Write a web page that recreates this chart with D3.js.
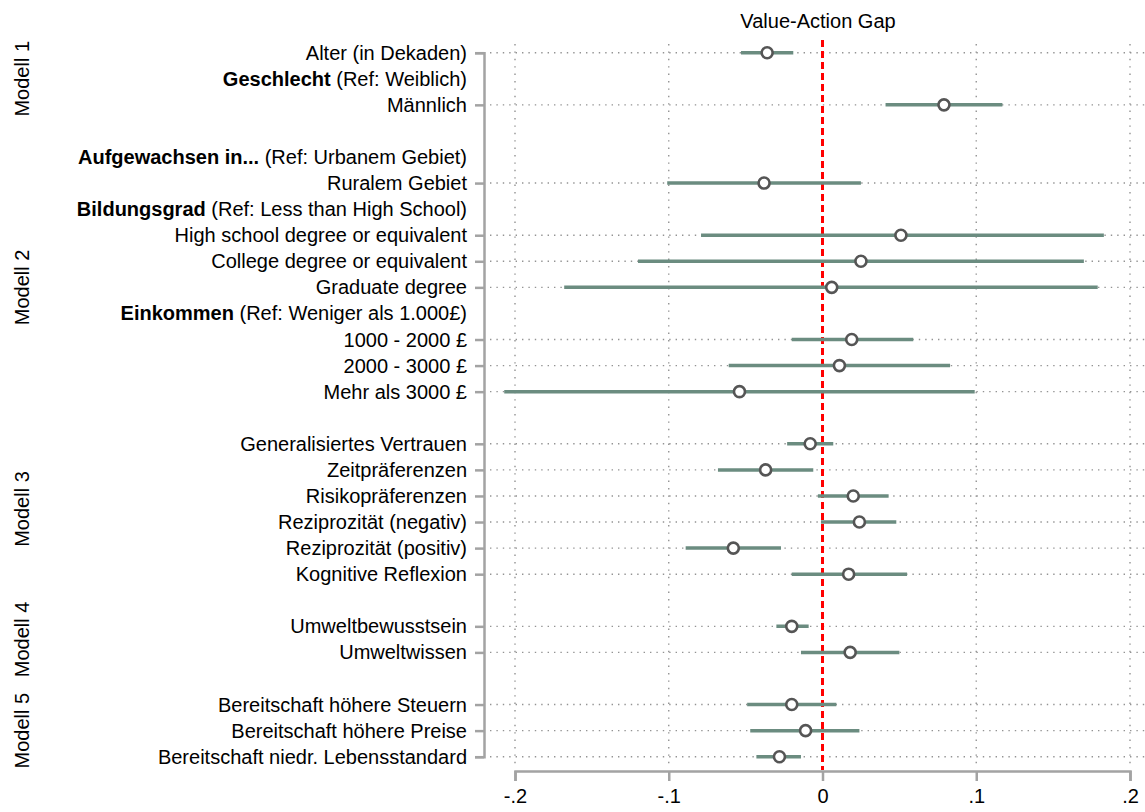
<!DOCTYPE html>
<html>
<head>
<meta charset="utf-8">
<script src="https://cdn.jsdelivr.net/npm/d3@7"></script>
<style>
  body { margin: 0; background: #fff; }
  svg { display: block; }
  text { font-family: "Liberation Sans", Arial, sans-serif; fill: #000; }
</style>
</head>
<body>
<svg id="chart" width="1145" height="812"></svg>
<script>
// Row labels, top to bottom ("" = spacer row)
const rowLabels = [
  "Alter (in Dekaden)",
  "Geschlecht (Ref: Weiblich)",
  "Männlich",
  "",
  "Aufgewachsen in... (Ref: Urbanem Gebiet)",
  "Ruralem Gebiet",
  "Bildungsgrad (Ref: Less than High School)",
  "High school degree or equivalent",
  "College degree or equivalent",
  "Graduate degree",
  "Einkommen (Ref: Weniger als 1.000£)",
  "1000 - 2000 £",
  "2000 - 3000 £",
  "Mehr als 3000 £",
  "",
  "Generalisiertes Vertrauen",
  "Zeitpräferenzen",
  "Risikopräferenzen",
  "Reziprozität (negativ)",
  "Reziprozität (positiv)",
  "Kognitive Reflexion",
  "",
  "Umweltbewusstsein",
  "Umweltwissen",
  "",
  "Bereitschaft höhere Steuern",
  "Bereitschaft höhere Preise",
  "Bereitschaft niedr. Lebensstandard"
];

// Bold lead-in words of the reference-category header rows
const headerBold = ["Geschlecht", "Aufgewachsen in...", "Bildungsgrad", "Einkommen"];

// Point estimates and 95% confidence bounds (null = no estimate on that row)
const estimate = [-0.036, null, 0.079, null, null, -0.038, null, 0.051, 0.025, 0.006,
  null, 0.019, 0.011, -0.054, null, -0.008, -0.037, 0.020, 0.024, -0.058, 0.017,
  null, -0.020, 0.018, null, -0.020, -0.011, -0.028];
const ciLow = [-0.053, null, 0.041, null, null, -0.101, null, -0.079, -0.120, -0.168,
  null, -0.020, -0.061, -0.207, null, -0.023, -0.068, -0.003, -0.001, -0.089, -0.020,
  null, -0.030, -0.014, null, -0.049, -0.047, -0.043];
const ciHigh = [-0.019, null, 0.117, null, null, 0.025, null, 0.183, 0.170, 0.179,
  null, 0.059, 0.083, 0.099, null, 0.007, -0.006, 0.043, 0.048, -0.027, 0.055,
  null, -0.009, 0.050, null, 0.009, 0.024, -0.014];

// Model groups: name, first and last coefficient row
const modelNames = ["Modell 1", "Modell 2", "Modell 3", "Modell 4", "Modell 5"];
const modelFirstRow = [0, 5, 15, 22, 25];
const modelLastRow = [2, 13, 20, 23, 27];

// X axis ticks
const xTicks = [-0.2, -0.1, 0, 0.1, 0.2];
const xTickLabels = ["-.2", "-.1", "0", ".1", ".2"];

const title = "Value-Action Gap";

const svg = d3.select("#chart");
const axisColor = "#a3a3a3";
const gridColor = "#939393";
const ciColor = "#6b8c80";
const pointColor = "#555555";

const x = d3.scaleLinear().domain([-0.2, 0.2]).range([515, 1130]);
const y = d3.scalePoint().domain(d3.range(rowLabels.length)).range([52.7, 756.7]);

const coefRows = d3.range(rowLabels.length).filter(i => estimate[i] !== null);

// Title
svg.append("text")
  .attr("x", 818).attr("y", 28)
  .attr("text-anchor", "middle")
  .style("font-size", "20px")
  .text(title);

// Vertical dotted grid
svg.append("g").selectAll("line")
  .data(xTicks.filter(v => v !== 0))
  .join("line")
  .attr("x1", d => x(d)).attr("x2", d => x(d))
  .attr("y1", 44).attr("y2", 766)
  .attr("stroke", gridColor)
  .attr("stroke-width", 1.4)
  .attr("stroke-dasharray", "1.4,6");

// Horizontal dotted grid on every coefficient row
svg.append("g").selectAll("line")
  .data(coefRows)
  .join("line")
  .attr("x1", 490).attr("x2", 1145)
  .attr("y1", d => y(d)).attr("y2", d => y(d))
  .attr("stroke", gridColor)
  .attr("stroke-width", 1.4)
  .attr("stroke-dasharray", "1.4,5");

// Reference line at zero
svg.append("line")
  .attr("x1", x(0)).attr("x2", x(0))
  .attr("y1", 40).attr("y2", 770)
  .attr("stroke", "#ff0000")
  .attr("stroke-width", 3)
  .attr("stroke-dasharray", "7,4");

// Confidence intervals
svg.append("g").selectAll("line")
  .data(coefRows)
  .join("line")
  .attr("x1", d => x(ciLow[d])).attr("x2", d => x(ciHigh[d]))
  .attr("y1", d => y(d)).attr("y2", d => y(d))
  .attr("stroke", ciColor)
  .attr("stroke-width", 3.5);

// Point estimates
svg.append("g").selectAll("circle")
  .data(coefRows)
  .join("circle")
  .attr("cx", d => x(estimate[d]))
  .attr("cy", d => y(d))
  .attr("r", 5.5)
  .attr("fill", "#fff")
  .attr("stroke", pointColor)
  .attr("stroke-width", 2.6);

// Y axis (ticks only on coefficient rows)
const yAxis = svg.append("g")
  .attr("transform", "translate(484,0)")
  .call(d3.axisLeft(y).tickValues(coefRows).tickSize(9).tickFormat(""));
yAxis.selectAll("path, line").attr("stroke", axisColor).attr("stroke-width", 2.5);

// X axis
const xAxis = svg.append("g")
  .attr("transform", "translate(0,771)")
  .call(d3.axisBottom(x).tickValues(xTicks).tickSize(10)
    .tickFormat((d, i) => xTickLabels[i]).tickPadding(8));
xAxis.selectAll("path, line").attr("stroke", axisColor).attr("stroke-width", 2.5);
xAxis.selectAll("text")
  .style("font-size", "20px")
  .style("font-family", "'Liberation Sans', Arial, sans-serif")
  .attr("fill", "#000");

// Row labels, with bold lead-in on header rows
const labelG = svg.append("g");
rowLabels.forEach((lab, i) => {
  if (!lab) return;
  const t = labelG.append("text")
    .attr("x", 467).attr("y", y(i))
    .attr("text-anchor", "end")
    .attr("dominant-baseline", "central")
    .style("font-size", "20px");
  const bold = headerBold.find(b => lab.startsWith(b + " "));
  if (bold) {
    t.append("tspan").style("font-weight", "bold").text(bold);
    t.append("tspan").text(lab.slice(bold.length));
  } else {
    t.text(lab);
  }
});

// Model group labels, rotated along the left edge
svg.append("g").selectAll("text")
  .data(modelNames)
  .join("text")
  .attr("transform", (d, i) => {
    const cy = (y(modelFirstRow[i]) + y(modelLastRow[i])) / 2;
    return `translate(22,${cy}) rotate(-90)`;
  })
  .attr("text-anchor", "middle")
  .attr("dominant-baseline", "central")
  .style("font-size", "20px")
  .text(d => d);
</script>
</body>
</html>
